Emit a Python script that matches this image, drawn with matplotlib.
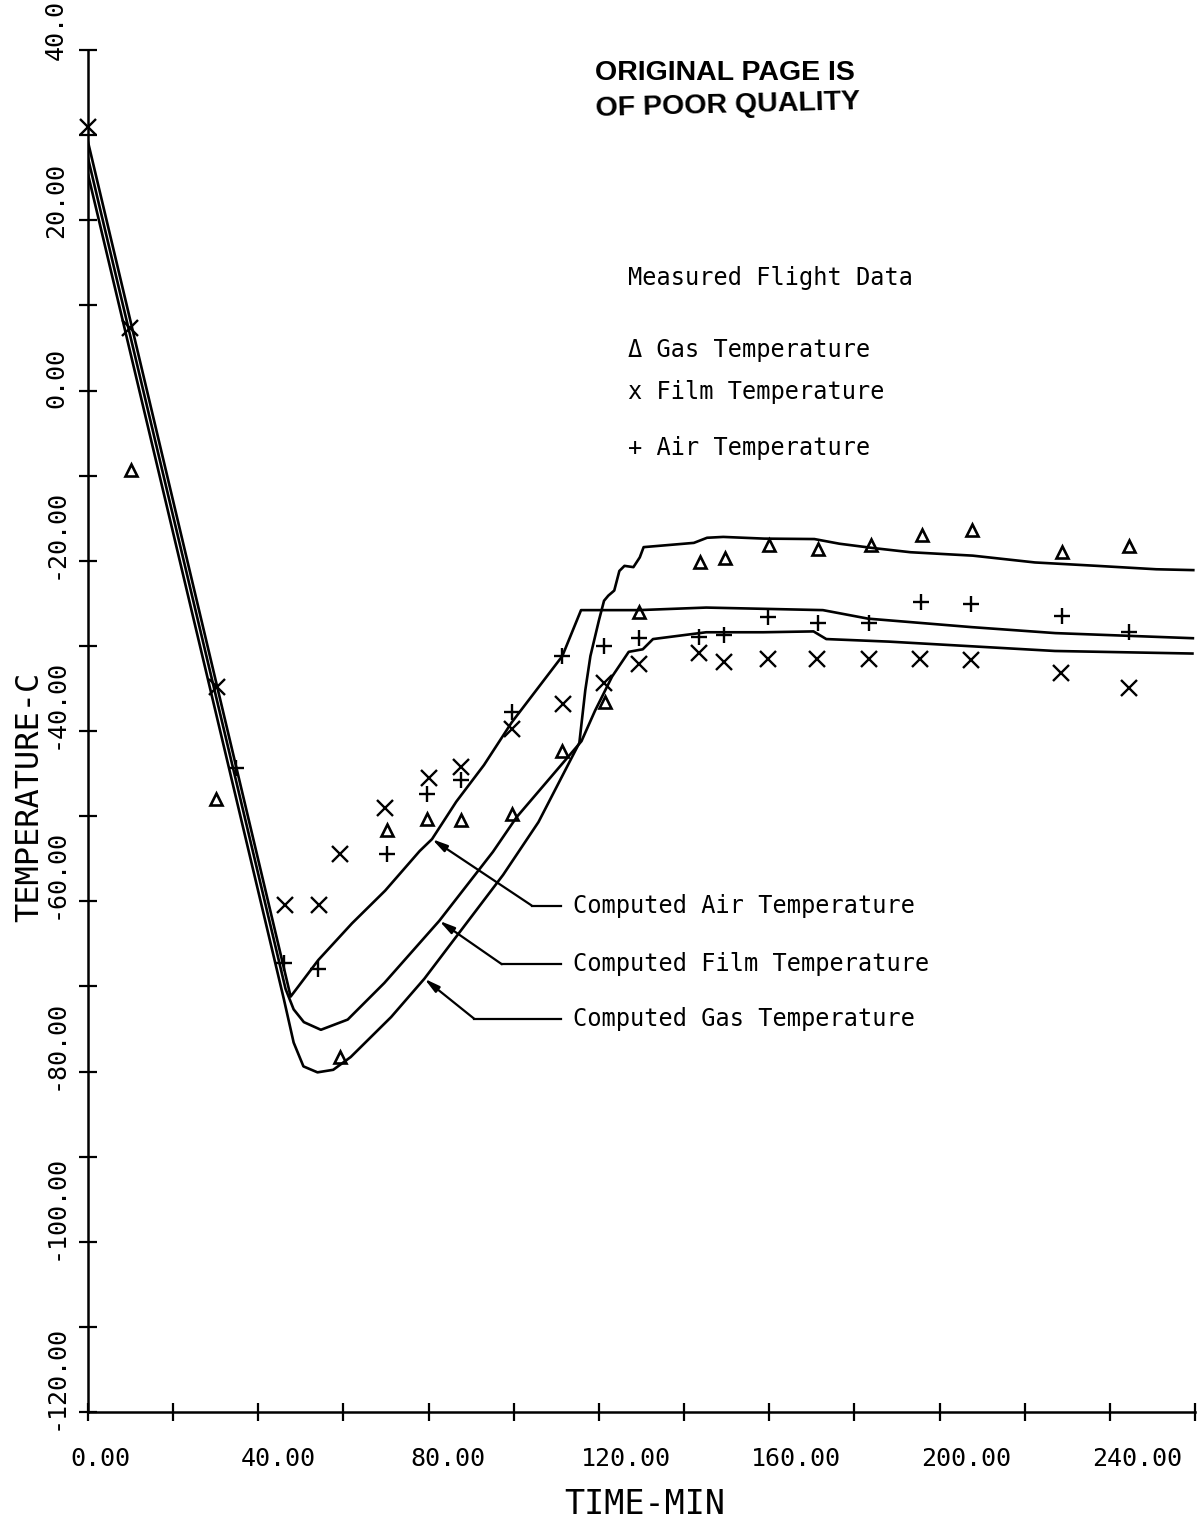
import matplotlib
matplotlib.use("Agg")
import matplotlib.pyplot as plt
import matplotlib.transforms as mtransforms
import numpy as np

# computed curves, time in min / temperature in C
air_t = [0, 47.6, 54.1, 62.0, 69.8, 77.9, 80.8, 86.5, 93.0, 99.5, 111.4, 115.8,
         129.4, 145.2, 172.6, 183.2, 207.6, 227.2, 259.5]
air_T = [29.2, -71.2, -66.9, -62.6, -58.75, -54.1, -52.7, -48.3, -44.0, -39.0, -31.2, -25.8,
         -25.8, -25.5, -25.8, -26.8, -27.8, -28.5, -29.1]

film_t = [0, 46.4, 48.3, 50.7, 54.7, 61.0, 69.6, 82.5, 95.1, 100.7, 115.9, 119.1,
          123.1, 127.0, 130.3, 132.7, 145.2, 158.6, 170.4, 173.4, 188.1, 207.6, 227.1, 259.4]
film_T = [27.3, -70.3, -72.7, -74.2, -75.1, -73.9, -69.6, -62.3, -54.2, -50.1, -41.2, -37.6,
          -33.6, -30.7, -30.4, -29.2, -28.4, -28.4, -28.3, -29.2, -29.5, -30.05, -30.6, -30.9]

gas_t = [0, 46.0, 48.3, 50.6, 53.9, 57.6, 61.7, 71.2, 79.0, 97.5, 105.8, 115.4,
         116.8, 118.0, 120.0, 121.2, 122.2, 123.6, 124.8, 126.0, 128.1, 129.6, 130.5, 137.6, 142.3,
         145.4, 149.2, 158.8, 170.6, 176.5, 184.3, 193.2, 207.8, 222.4, 237.0, 250.9, 259.6]
gas_T = [25.4, -71.5, -76.6, -79.4, -80.1, -79.8, -78.3, -73.6, -69.1, -56.9, -50.7, -41.4,
         -35.2, -31.2, -27.0, -24.7, -24.1, -23.5, -21.2, -20.6, -20.75, -19.6, -18.4, -18.1, -17.9,
         -17.3, -17.2, -17.4, -17.45, -18.0, -18.5, -19.0, -19.4, -20.2, -20.6, -21.0, -21.1]

# measured flight data
m_gas_t = [10.0, 30.0, 59.1, 70.2, 79.7, 87.7, 99.7, 111.4, 121.4, 129.4, 143.7, 149.6, 160.0, 171.5,
           183.8, 195.8, 207.6, 228.8, 244.6]
m_gas_T = [-9.3, -48.0, -78.3, -51.6, -50.3, -50.5, -49.8, -42.3, -36.6, -26.0, -20.2, -19.7, -18.2, -18.6,
           -18.2, -17.0, -16.35, -19.0, -18.3]

m_film_t = [0.0, 9.9, 30.3, 46.2, 54.2, 59.1, 69.8, 80.0, 87.6, 99.7, 111.5, 121.2, 129.3, 143.5, 149.3,
            159.7, 171.3, 183.5, 195.5, 207.3, 228.5, 244.5]
m_film_T = [30.9, 7.4, -34.8, -60.4, -60.4, -54.4, -49.1, -45.5, -44.2, -39.8, -36.8, -34.4, -32.1, -30.8, -31.9,
            -31.5, -31.5, -31.5, -31.5, -31.7, -33.2, -35.0]

m_air_t = [34.8, 46.1, 54.1, 70.2, 79.7, 87.5, 99.5, 111.4, 121.3, 129.4, 143.5, 149.4, 159.8, 171.4,
           183.4, 195.7, 207.5, 228.7, 244.6]
m_air_T = [-44.3, -67.2, -68.0, -54.4, -47.4, -45.7, -37.8, -31.2, -30.0, -29.1, -28.9, -28.7, -26.65, -27.3,
           -27.35, -24.8, -25.1, -26.5, -28.4]

x_ticks = np.arange(0, 261, 20)
y_ticks = np.arange(-120, 41, 10)
x_labels = {0: "0.00", 40: "40.00", 80: "80.00", 120: "120.00", 160: "160.00", 200: "200.00", 240: "240.00"}
y_labels = {40: "40.0", 20: "20.00", 0: "0.00", -20: "-20.00", -40: "-40.00", -60: "-60.00",
            -80: "-80.00", -100: "-100.00", -120: "-120.00"}

W, H = 1202, 1525
mono = "DejaVu Sans Mono"

fig = plt.figure(figsize=(W / 100, H / 100), dpi=100)
ax = fig.add_axes([88 / W, 1 - 1412 / H, (1195 - 88) / W, (1412 - 50) / H])
ax.set_xlim(0, 260)
ax.set_ylim(-120, 40)

ax.spines['top'].set_visible(False)
ax.spines['right'].set_visible(False)
ax.spines['left'].set_linewidth(1.8)
ax.spines['bottom'].set_linewidth(1.8)
ax.set_xticks(x_ticks)
ax.set_yticks(y_ticks)
ax.tick_params(direction='inout', length=13, width=1.6, labelbottom=False, labelleft=False)

# computed curves
for t, T in [(air_t, air_T), (film_t, film_T), (gas_t, gas_T)]:
    ax.plot(t, T, color='black', lw=1.9, solid_joinstyle='round')

# measured points
ax.plot(m_gas_t, m_gas_T, ls='none', marker='^', ms=9, mfc='none', mec='black', mew=1.9, clip_on=False)
ax.plot(m_film_t, m_film_T, ls='none', marker='x', ms=11.5, mec='black', mew=1.7, clip_on=False)
ax.plot(m_air_t, m_air_T, ls='none', marker='+', ms=12, mec='black', mew=1.7, clip_on=False)

# tick labels (offset a bit like the plotter did)
xlab_y = mtransforms.offset_copy(ax.transAxes, fig=fig, x=0, y=-47, units='dots')
for v, s in x_labels.items():
    tr = mtransforms.offset_copy(ax.transData, fig=fig, x=-18, y=0, units='dots')
    ax.text(v, 0, s, transform=mtransforms.blended_transform_factory(tr, xlab_y),
            ha='left', va='center', fontsize=18, family=mono)
ylab_x = mtransforms.offset_copy(ax.transAxes, fig=fig, x=-32, y=0, units='dots')
for v, s in y_labels.items():
    dy = -10 if v == 40 else -18
    tr = mtransforms.offset_copy(ax.transData, fig=fig, x=0, y=dy, units='dots')
    ax.text(0, v, s, transform=mtransforms.blended_transform_factory(ylab_x, tr),
            ha='center', va='bottom', rotation=90, fontsize=18, family=mono)

fig.text(645 / W, 1 - 1505 / H, "TIME-MIN", ha='center', va='center', fontsize=24, family=mono)
fig.text(30 / W, 1 - 797 / H, "TEMPERATURE-C", ha='center', va='center', rotation=90, fontsize=23, family=mono)

# computed curve callouts
callouts = [("Computed Air Temperature", (80.8, -52.7), 104.2, -60.5),
            ("Computed Film Temperature", (82.5, -62.3), 97.2, -67.4),
            ("Computed Gas Temperature", (79.0, -69.1), 90.7, -73.8)]
for label, tip, ex, ey in callouts:
    ax.plot([ex, 111.1], [ey, ey], color='black', lw=1.6)
    ax.annotate("", xy=tip, xytext=(ex, ey),
                arrowprops=dict(arrowstyle='-|>,head_length=0.9,head_width=0.22', color='black',
                                lw=1.6, shrinkA=0, shrinkB=0))
    ax.text(113.9, ey, label, ha='left', va='center', fontsize=17, family=mono)

# legend block
fig.text(628 / W, 1 - 278 / H, "Measured Flight Data", ha='left', va='center', fontsize=17, family=mono)
fig.text(628 / W, 1 - 350 / H, "\u0394 Gas Temperature", ha='left', va='center', fontsize=17, family=mono)
fig.text(628 / W, 1 - 392 / H, "x Film Temperature", ha='left', va='center', fontsize=17, family=mono)
fig.text(628 / W, 1 - 448 / H, "+ Air Temperature", ha='left', va='center', fontsize=17, family=mono)

# stamp
fig.text(595 / W, 1 - 73 / H, "ORIGINAL PAGE IS", ha='left', va='center', fontsize=20.5,
         fontweight='bold', family='Liberation Sans')
fig.text(595 / W, 1 - 106 / H, "OF POOR QUALITY", ha='left', va='center', fontsize=20.5,
         fontweight='bold', family='Liberation Sans', rotation=1.5)

fig.savefig("out.png", dpi=100)
